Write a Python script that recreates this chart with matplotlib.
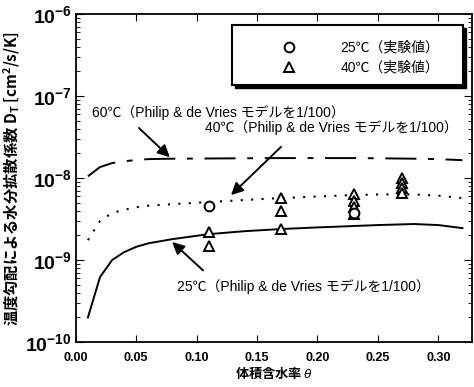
import numpy as np
import matplotlib
matplotlib.use("Agg")
import matplotlib.pyplot as plt
from matplotlib.patches import Rectangle

plt.rcParams['font.family'] = ['Liberation Sans', 'Noto Sans CJK JP', 'DejaVu Sans']
plt.rcParams['mathtext.fontset'] = 'custom'
plt.rcParams['mathtext.rm'] = 'Liberation Sans'
plt.rcParams['mathtext.it'] = 'Liberation Sans:italic'
plt.rcParams['mathtext.bf'] = 'Liberation Sans:bold'

# ---- model curves (Philip & de Vries, scaled 1/100) ----
theta_model = [0.01, 0.02, 0.03, 0.04, 0.05, 0.06, 0.08, 0.11, 0.14, 0.17, 0.20,
               0.23, 0.25, 0.28, 0.30, 0.32]
d_25 = [2.0e-10, 6.2e-10, 1.0e-9, 1.25e-9, 1.45e-9, 1.6e-9, 1.8e-9, 2.07e-9, 2.25e-9,
        2.39e-9, 2.5e-9, 2.6e-9, 2.67e-9, 2.75e-9, 2.67e-9, 2.45e-9]
d_40 = [1.75e-9, 2.99e-9, 3.74e-9, 4.1e-9, 4.4e-9, 4.6e-9, 4.8e-9, 5.1e-9, 5.4e-9,
        5.7e-9, 5.95e-9, 6.2e-9, 6.3e-9, 6.3e-9, 6.1e-9, 5.7e-9]
d_60 = [1.05e-8, 1.36e-8, 1.52e-8, 1.6e-8, 1.66e-8, 1.7e-8, 1.72e-8, 1.73e-8, 1.74e-8,
        1.75e-8, 1.75e-8, 1.75e-8, 1.74e-8, 1.72e-8, 1.7e-8, 1.65e-8]

# ---- measured values ----
theta_25 = [0.11, 0.23]
exp_25 = [4.56e-9, 3.7e-9]
theta_40 = [0.11, 0.11, 0.17, 0.17, 0.17, 0.23, 0.23, 0.23, 0.23,
            0.27, 0.27, 0.27, 0.27]
exp_40 = [2.2e-9, 1.48e-9, 5.7e-9, 3.96e-9, 2.39e-9, 6.4e-9, 5.2e-9, 4.4e-9, 3.6e-9,
          1.0e-8, 8.7e-9, 7.6e-9, 6.6e-9]

xtick_vals = [0.00, 0.05, 0.10, 0.15, 0.20, 0.25, 0.30]
xtick_text = ['0.00', '0.05', '0.10', '0.15', '0.20', '0.25', '0.30']

fig = plt.figure(figsize=(4.74, 3.87), dpi=100)
ax = fig.add_axes([0.160, 0.116, 0.836, 0.848])

ax.plot(theta_model, d_25, color='black', lw=1.4)
ax.plot(theta_model, d_40, color='black', lw=1.5, linestyle=(0, (1, 4)))
ax.plot(theta_model, d_60, color='black', lw=1.4, linestyle=(0, (16, 6, 3, 6)))

ax.plot(theta_40, exp_40, linestyle='none', marker='^', ms=7, mfc='white',
        mec='black', mew=1.4)
ax.plot(theta_25, exp_25, linestyle='none', marker='o', ms=7, mfc='white',
        mec='black', mew=1.4)

ax.set_yscale('log')
ax.set_xlim(0, 0.328)
ax.set_ylim(1e-10, 1e-6)
ax.set_xticks(xtick_vals)
ax.set_xticklabels(xtick_text, fontweight='bold')
ax.tick_params(axis='both', which='both', direction='in', top=True, right=True)
ax.tick_params(axis='x', labelsize=9, length=5, pad=7)
ax.tick_params(axis='y', which='major', labelsize=14, length=6, pad=3)
ax.tick_params(axis='y', which='minor', length=3)
for lab in ax.get_yticklabels():
    lab.set_fontweight('bold')
for sp in ax.spines.values():
    sp.set_linewidth(1.3)

ax.set_xlabel('体積含水率 $\\it{θ}$', fontsize=9.5, fontweight='bold', labelpad=1,
              family=['Noto Sans CJK JP'])
ax.set_ylabel('温度勾配による水分拡散係数 D$_\\mathregular{T}$ [cm$^\\mathregular{2}$/s/K]',
              fontsize=11, fontweight='bold', labelpad=3,
              family=['Noto Sans CJK JP'])

# legend box with drop shadow
ax.add_patch(Rectangle((0.402, 0.774), 0.583, 0.182, transform=ax.transAxes,
                       facecolor='black', edgecolor='black', zorder=4))
ax.add_patch(Rectangle((0.394, 0.784), 0.583, 0.182, transform=ax.transAxes,
                       facecolor='white', edgecolor='black', lw=1.5, zorder=5))
ax.plot([0.538], [0.899], transform=ax.transAxes, marker='o', ms=7, mfc='white',
        mec='black', mew=1.4, zorder=6)
ax.plot([0.538], [0.838], transform=ax.transAxes, marker='^', ms=7, mfc='white',
        mec='black', mew=1.4, zorder=6)
ax.text(0.667, 0.899, '25℃（実験値）', transform=ax.transAxes, fontsize=10,
        va='center', zorder=6)
ax.text(0.667, 0.838, '40℃（実験値）', transform=ax.transAxes, fontsize=10,
        va='center', zorder=6)

# model labels with arrows
arrow = dict(arrowstyle='-|>', color='black', lw=1.4, mutation_scale=18)
ax.annotate('', xy=(0.0795, 1.7e-8), xytext=(0.0505, 4.3e-8), arrowprops=arrow)
ax.text(0.0133, 6.2e-8, '60℃（Philip & de Vries モデルを1/100）', fontsize=10,
        va='center')
ax.annotate('', xy=(0.1268, 5.87e-9), xytext=(0.1715, 2.53e-8), arrowprops=arrow)
ax.text(0.107, 4.07e-8, '40℃（Philip & de Vries モデルを1/100）', fontsize=10,
        va='center')
ax.annotate('', xy=(0.078, 1.75e-9), xytext=(0.107, 7.1e-10), arrowprops=arrow)
ax.text(0.0837, 4.69e-10, '25℃（Philip & de Vries モデルを1/100）', fontsize=10,
        va='center')

fig.savefig('out.png', dpi=100)
